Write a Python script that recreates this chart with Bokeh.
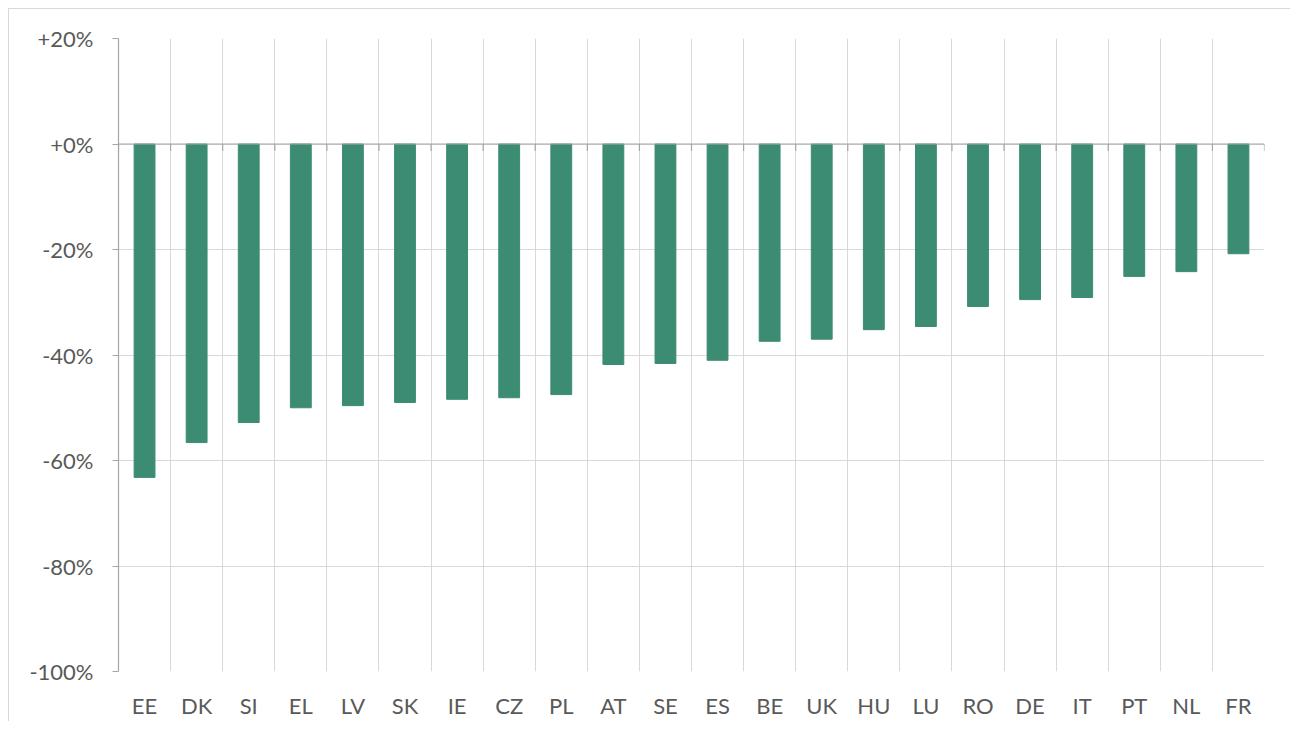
import numpy as np
from bokeh.plotting import figure
from bokeh.models import Range1d, FixedTicker, CustomJSTickFormatter, Span
from bokeh.embed import file_html
from bokeh.resources import INLINE

countries = ["EE", "DK", "SI", "EL", "LV", "SK", "IE", "CZ", "PL", "AT", "SE",
             "ES", "BE", "UK", "HU", "LU", "RO", "DE", "IT", "PT", "NL", "FR"]
change_pct = [-63.2, -56.6, -52.8, -50.0, -49.6, -49.0, -48.4, -48.1, -47.5, -41.8, -41.6,
              -41.0, -37.4, -37.0, -35.2, -34.6, -30.8, -29.5, -29.1, -25.1, -24.2, -20.8]
y_ticks = [20, 0, -20, -40, -60, -80, -100]

BAR = "#3c8c73"
GRID = "#d9d9d9"
AXIS = "#a6a6a6"
TEXT = "#595959"
FONT = "Lato"

n = len(countries)
centers = np.arange(n) + 0.5
bounds = np.arange(n + 1)

y_min, y_max = min(y_ticks), max(y_ticks)
frame_h = 633

p = figure(frame_width=1146, frame_height=frame_h, x_range=Range1d(0, n), y_range=Range1d(y_min, y_max),
           output_backend="svg", toolbar_location=None,
           min_border_left=109, min_border_right=26, min_border_top=29, min_border_bottom=40)
p.styles = {"border-top": "1px solid #d9d9d9", "border-left": "1px solid #d9d9d9",
            "margin-left": "8px", "margin-top": "8px"}
p.outline_line_color = None
p.background_fill_color = "white"

p.vbar(x=centers, top=change_pct, bottom=0, width=0.4, color=BAR)

# axis line at zero with category boundary ticks
p.add_layout(Span(location=0, dimension="width", line_color=AXIS, line_width=1.2))
tick_len = 7 * (y_max - y_min) / frame_h
p.segment(x0=bounds, x1=bounds, y0=0, y1=-tick_len, line_color=AXIS, line_width=1.2)

# x axis (labels only)
xa = p.xaxis[0]
xa.ticker = FixedTicker(ticks=list(centers))
xa.formatter = CustomJSTickFormatter(args=dict(labels=countries),
                                     code="return labels[Math.floor(tick)];")
xa.axis_line_color = None
xa.major_tick_line_color = None
xa.minor_tick_line_color = None
xa.major_label_standoff = 14
xa.major_label_text_font = FONT
xa.major_label_text_font_size = "22px"
xa.major_label_text_color = TEXT

# y axis
ya = p.yaxis[0]
ya.ticker = FixedTicker(ticks=y_ticks)
ya.formatter = CustomJSTickFormatter(code="return (tick >= 0 ? '+' : '') + tick.toFixed(0) + '%';")
ya.axis_line_color = AXIS
ya.axis_line_width = 1.2
ya.major_tick_line_color = AXIS
ya.major_tick_out = 6
ya.major_tick_in = 0
ya.minor_tick_line_color = None
ya.major_label_standoff = 19
ya.major_label_text_font = FONT
ya.major_label_text_font_size = "22px"
ya.major_label_text_color = TEXT

p.xgrid.ticker = FixedTicker(ticks=list(bounds))
p.xgrid.grid_line_color = GRID
p.ygrid.grid_line_color = GRID

open("out.html", "w").write(file_html(p, INLINE))
